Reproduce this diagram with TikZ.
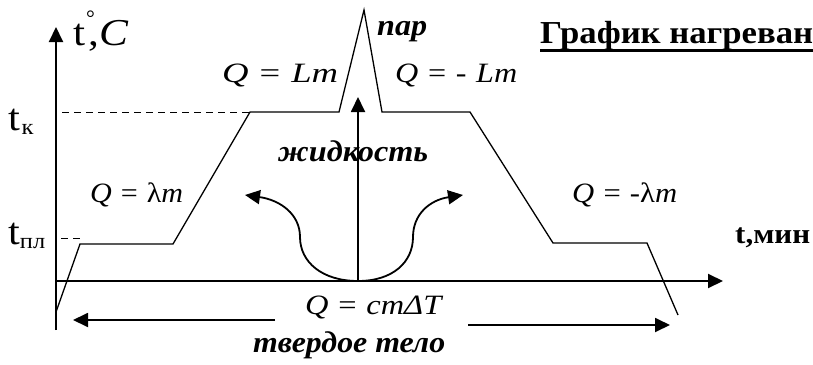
\documentclass[tikz,border=0pt]{standalone}
\usepackage{fontspec}
\usepackage{graphicx}
\setmainfont{Liberation Serif}
\usetikzlibrary{arrows.meta}
\newcommand{\wfit}[2]{\resizebox{#1pt}{\height}{#2}}
\newcommand{\eqsp}{\hspace{0.3em}}
\newcommand{\hstr}[1]{\scalebox{1.14}[1]{#1}}
\begin{document}
\begin{tikzpicture}[x=1pt,y=-1pt,
  axis/.style={line width=2pt,-{Triangle[length=15pt,width=14pt]}},
  bigarrow/.style={line width=1.8pt,-{Triangle[length=15pt,width=14pt]}},
  curve/.style={line width=1.3pt,line join=miter},
  dashline/.style={line width=1pt,dash pattern=on 7pt off 5pt},
  lbl/.style={inner sep=0pt,anchor=base west,font=\fontsize{28}{28}\selectfont},
  tlbl/.style={inner sep=0pt,anchor=base west,font=\fontsize{38}{38}\selectfont},
  boldlbl/.style={inner sep=0pt,anchor=base west,font=\fontsize{28}{28}\selectfont\bfseries},
  bilbl/.style={inner sep=0pt,anchor=base west,font=\fontsize{30}{30}\selectfont\bfseries\itshape},
  ]
\useasboundingbox (0,0) rectangle (813,364);
% axes
\coordinate (ybot) at (56,330);
\coordinate (ytop) at (56,27);
\coordinate (xl) at (56,281);
\coordinate (xr) at (723,281);
\draw[axis] (ybot) -- (ytop);
\draw[axis] (xl) -- (xr);
% curve
\coordinate (c0) at (56,312);
\coordinate (c1) at (80,244);
\coordinate (c2) at (173,244);
\coordinate (c3) at (250,112);
\coordinate (c4) at (339,112);
\coordinate (c5) at (364,10);
\coordinate (c6) at (382,112);
\coordinate (c7) at (470,112);
\coordinate (c8) at (553,243);
\coordinate (c9) at (647,243);
\coordinate (c10) at (678,315);
\draw[curve] (c0)--(c1)--(c2)--(c3)--(c4)--(c5)--(c6)--(c7)--(c8)--(c9)--(c10);
% dashed levels
\coordinate (dk0) at (62,112);
\coordinate (dp0) at (61,238);
\coordinate (dp1) at (80,238);
\draw[dashline] (dk0) -- (c3);
\draw[dashline] (dp0) -- (dp1);
% middle arrows
\coordinate (m0) at (358,281);
\coordinate (mtop) at (358,97);
\coordinate (lmid) at (300,237);
\coordinate (ltip) at (245,195);
\coordinate (rmid) at (413,237);
\coordinate (rtip) at (463,195);
\draw[bigarrow] (m0) -- (mtop);
\draw[bigarrow] (m0) .. controls (322,281) and (300,262) .. (lmid) .. controls (300,214) and (280,200) .. (ltip);
\draw[bigarrow] (m0) .. controls (393,281) and (413,262) .. (rmid) .. controls (413,214) and (430,200) .. (rtip);
% bottom arrows
\coordinate (bl0) at (275,320);
\coordinate (bl1) at (73,320);
\coordinate (br0) at (468,325);
\coordinate (br1) at (670,325);
\draw[bigarrow] (bl0) -- (bl1);
\draw[bigarrow] (br0) -- (br1);
% labels: t°,C
\node[tlbl] (tt) at (73,45) {\hstr{t}};
\node[inner sep=0pt,anchor=base west,font=\fontsize{22}{22}\selectfont] (deg) at (86,25) {°};
\node[tlbl] (tcomma) at (88.5,45) {\hstr{,}};
\node[tlbl] (tC) at (99.5,45) {\hstr{\textit{C}}};
\node[tlbl] (tk) at (8,130) {\scalebox{1.12}[1]{t\hspace{1.5pt}\raisebox{-0.12em}{\fontsize{22}{22}\selectfont к}}};
\node[tlbl] (tpl) at (8,244) {\wfit{37}{t\raisebox{-0.12em}{\fontsize{22}{22}\selectfont пл}}};
\node[lbl] (qlm) at (222,82) {\wfit{116}{\textit{Q}\eqsp=\eqsp\textit{Lm}}};
\node[bilbl] (par) at (377,35) {\wfit{50}{пар}};
\node[lbl] (qmlm) at (395,82) {\wfit{122}{\textit{Q}\eqsp=\eqsp-\eqsp\textit{Lm}}};
\node[boldlbl,font=\fontsize{32}{32}\selectfont\bfseries] (title) at (540,43) {\wfit{273}{График нагреван}};
\draw[line width=3pt] ([yshift=-7pt]title.base west) -- ([yshift=-7pt]title.base east);
\node[lbl] (qlam) at (90,202) {\wfit{93}{\textit{Q}\eqsp=\eqsp λ\textit{m}}};
\node[lbl] (qmlam) at (572,202) {\wfit{105}{\textit{Q}\eqsp=\eqsp-λ\textit{m}}};
\node[boldlbl] (tmin) at (735,243) {\wfit{75}{t,мин}};
\node[bilbl] (liq) at (278,161) {\wfit{150}{жидкость}};
\node[lbl] (qcm) at (305,314) {\wfit{138}{\textit{Q}\eqsp=\eqsp\textit{cmΔT}}};
\node[bilbl] (solid) at (253,352) {\wfit{192}{твердое тело}};
\end{tikzpicture}
\end{document}
